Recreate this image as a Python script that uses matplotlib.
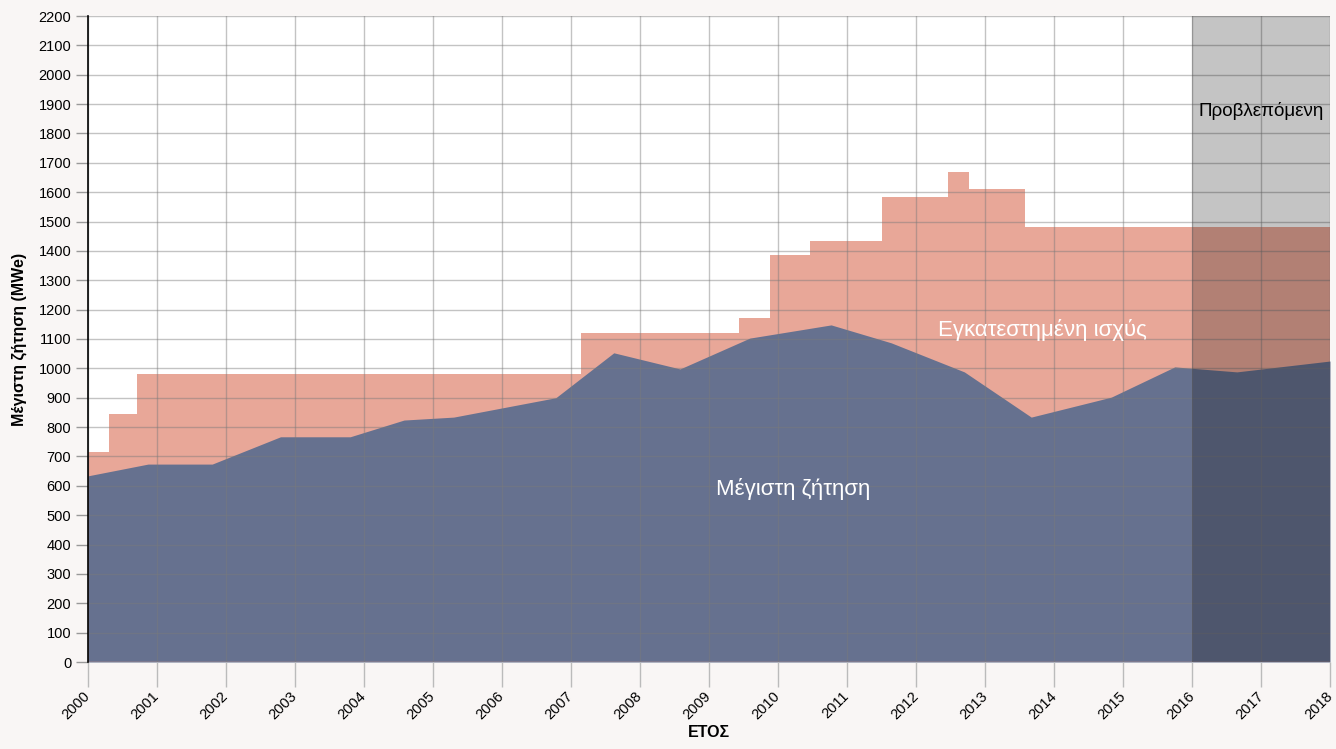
import matplotlib
matplotlib.use("Agg")
import matplotlib.pyplot as plt
import numpy as np

# Installed capacity (step function, value holds from each edge to the next)
cap_x = [2000, 2000.30, 2000.71, 2007.14, 2009.43, 2009.88, 2010.46, 2011.51,
         2012.47, 2012.77, 2013.58, 2018]
cap_val = [715, 845, 980, 1120, 1170, 1385, 1435, 1585, 1670, 1610, 1480, 1480]

# Peak demand
dem_x = [2000, 2000.87, 2001.80, 2002.79, 2003.80, 2004.58, 2005.30, 2006.78,
         2007.62, 2008.58, 2009.59, 2010.77, 2011.64, 2012.70, 2013.67,
         2014.83, 2015.75, 2016.65, 2018]
dem_val = [634, 674, 674, 767, 767, 824, 834, 900, 1053, 998, 1103, 1148,
           1087, 988, 834, 902, 1005, 988, 1025]

years = list(range(2000, 2019))
yticks = list(range(0, 2201, 100))
forecast_start, forecast_end = 2016, 2018

tick_font = ['Liberation Sans Narrow', 'Liberation Sans', 'DejaVu Sans']
label_font = ['Liberation Sans', 'DejaVu Sans']

fig = plt.figure(figsize=(13.36, 7.49), dpi=100)
fig.patch.set_facecolor('#f9f6f5')
ax = fig.add_axes([88/1336, 87/749, (1330-88)/1336, (662-16)/749])
ax.set_facecolor('white')

ax.fill_between(cap_x, 0, cap_val, step='post', color='#e8a798', lw=0, zorder=1)
ax.fill_between(dem_x, 0, dem_val, color='#66718f', lw=0, zorder=2)
ax.axhline(0, color='#e8a798', lw=1, zorder=2.5)

ax.set_xlim(2000, 2018)
ax.set_ylim(0, 2200)
ax.set_xticks(years)
ax.set_xticklabels([str(y) for y in years], rotation=45, ha='right', va='center',
                   rotation_mode='anchor', fontsize=10.5, family=tick_font)
ax.set_yticks(yticks)
ax.set_yticklabels([str(v) for v in yticks], fontsize=10.5, family=tick_font)
ax.grid(True, color='#7a7a7a', alpha=0.45, lw=1, zorder=3)
ax.set_axisbelow(False)

ax.axvspan(forecast_start, forecast_end, color='black', alpha=0.23, lw=0, zorder=4)

for s in ['top', 'right', 'bottom']:
    ax.spines[s].set_visible(False)
ax.spines['left'].set_color('black')
ax.spines['left'].set_linewidth(1.2)
ax.spines['left'].set_zorder(6)

ax.tick_params(axis='x', length=18, color='#bbbbbb', width=1, pad=5)
ax.tick_params(axis='y', length=9, color='#999999', width=1, pad=3)

ax.set_ylabel('Μέγιστη ζήτηση (MWe)', fontsize=11.5, fontweight='bold',
              family=['Liberation Sans', 'DejaVu Sans'], labelpad=8)
ax.set_xlabel('ΕΤΟΣ', fontsize=11.5, fontweight='bold',
              family=['Liberation Sans', 'DejaVu Sans'], labelpad=2)

ax.text(2013.83, 1131, 'Εγκατεστημένη ισχύς', color='white', fontsize=16,
        ha='center', va='center', family=label_font, zorder=5)
ax.text(2010.22, 589, 'Μέγιστη ζήτηση', color='white', fontsize=16,
        ha='center', va='center', family=label_font, zorder=5)
ax.text(2017.0, 1877, 'Προβλεπόμενη', color='black', fontsize=13.5,
        ha='center', va='center', family=label_font, zorder=5)

fig.savefig('out.png', dpi=100, facecolor=fig.get_facecolor())
